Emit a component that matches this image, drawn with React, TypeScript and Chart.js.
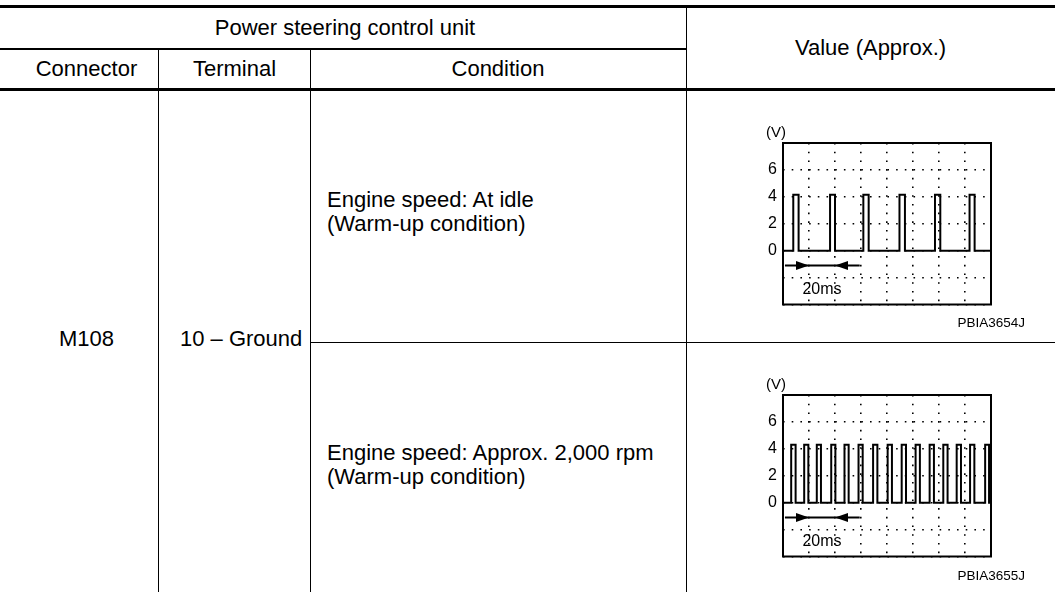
import React, { useEffect, useRef } from 'react';
import { Chart, registerables } from 'chart.js';

Chart.register(...registerables);

// ---- data ----
const timeRangeMs = [0, 160];
const timeGridStepMs = 20;
const voltRange = [-4, 8];
const voltGridStep = 2;
const voltTickValues = [-4, -2, 0, 2, 4, 6, 8];
const voltTickLabels = ['', '', '0', '2', '4', '6', ''];

// Idle: pulse rising / falling edges (ms) and levels (V)
const idleRiseMs = [7.9, 36.2, 61.8, 89.6, 116.9, 143.5];
const idleFallMs = [12.0, 40.0, 65.9, 93.8, 121.0, 147.4];
const idleHighV = 4.15;
const idleLowV = 0.0;

// 2,000 rpm: pulse rising / falling edges (ms) and levels (V)
const revRiseMs = [6.3, 16.3, 26.0, 37.1, 47.3, 58.1, 69.3, 80.5, 91.3, 102.0, 112.8, 123.3, 133.6, 143.9, 155.5];
const revFallMs = [9.7, 19.5, 29.2, 40.3, 50.5, 61.3, 72.6, 83.8, 94.6, 105.3, 116.1, 126.6, 136.9, 147.2, 158.5];
const revHighV = 4.3;
const revLowV = 0.0;

// 20 ms span annotation
const spanFromMs = 20;
const spanToMs = 40;
const spanLabel = '20ms';

const FONT = '"Liberation Sans", Arial, Helvetica, sans-serif';

function buildTrace(rise: number[], fall: number[], high: number, low: number) {
  const pts: { x: number; y: number }[] = [{ x: timeRangeMs[0], y: low }];
  rise.forEach((r, i) => {
    pts.push({ x: r, y: low }, { x: r, y: high }, { x: fall[i], y: high }, { x: fall[i], y: low });
  });
  pts.push({ x: timeRangeMs[1], y: low });
  return pts;
}

const scopeDecor = {
  id: 'scopeDecor',
  afterDraw(chart: any) {
    const { ctx, chartArea: a, scales } = chart;
    const xs = scales.x;
    const ys = scales.y;
    ctx.save();
    // frame
    ctx.strokeStyle = '#000';
    ctx.lineWidth = 2;
    ctx.strokeRect(a.left, a.top, a.right - a.left, a.bottom - a.top);
    // (V)
    ctx.fillStyle = '#000';
    ctx.font = `15px ${FONT}`;
    ctx.textAlign = 'right';
    ctx.textBaseline = 'middle';
    ctx.fillText('(V)', a.left + 3, a.top - 10);
    // span arrows
    const yA = ys.getPixelForValue(-1.1);
    const x1 = xs.getPixelForValue(spanFromMs);
    const x2 = xs.getPixelForValue(spanToMs);
    ctx.lineWidth = 2;
    ctx.beginPath();
    ctx.moveTo(xs.getPixelForValue(1.5), yA);
    ctx.lineTo(xs.getPixelForValue(59), yA);
    ctx.stroke();
    const head = 13;
    const hh = 4.5;
    ctx.beginPath();
    ctx.moveTo(x1, yA);
    ctx.lineTo(x1 - head, yA - hh);
    ctx.lineTo(x1 - head, yA + hh);
    ctx.closePath();
    ctx.fill();
    ctx.beginPath();
    ctx.moveTo(x2, yA);
    ctx.lineTo(x2 + head, yA - hh);
    ctx.lineTo(x2 + head, yA + hh);
    ctx.closePath();
    ctx.fill();
    ctx.font = `16px ${FONT}`;
    ctx.textAlign = 'center';
    ctx.textBaseline = 'middle';
    ctx.fillText(spanLabel, xs.getPixelForValue((spanFromMs + spanToMs) / 2), ys.getPixelForValue(-2.87));
    ctx.restore();
  },
};

function Scope(props: { rise: number[]; fall: number[]; high: number; low: number; left: number; top: number }) {
  const ref = useRef<HTMLCanvasElement>(null);
  useEffect(() => {
    const dotted = [1.6, 7.1];
    const chart = new Chart(ref.current as HTMLCanvasElement, {
      type: 'line',
      data: {
        datasets: [
          {
            data: buildTrace(props.rise, props.fall, props.high, props.low),
            borderColor: '#000',
            borderWidth: 2,
            pointRadius: 0,
            tension: 0,
            fill: false,
          },
        ],
      },
      options: {
        animation: false,
        responsive: false,
        events: [],
        layout: { padding: { left: 10, right: 49, top: 33, bottom: 30.5 } },
        plugins: { legend: { display: false }, tooltip: { enabled: false } },
        scales: {
          x: {
            type: 'linear',
            min: timeRangeMs[0],
            max: timeRangeMs[1],
            ticks: { display: false, stepSize: timeGridStepMs },
            grid: { color: '#000', lineWidth: 1.6, drawTicks: false },
            border: { display: false, dash: dotted },
            afterFit: (s: any) => {
              s.height = 0;
            },
          },
          y: {
            type: 'linear',
            min: voltRange[0],
            max: voltRange[1],
            ticks: {
              stepSize: voltGridStep,
              padding: 6,
              color: '#000',
              font: { family: FONT, size: 16 },
              callback: (v: any) => {
                const i = voltTickValues.indexOf(Number(v));
                return i >= 0 ? voltTickLabels[i] : '';
              },
            },
            grid: { color: '#000', lineWidth: 1.6, drawTicks: false },
            border: { display: false, dash: dotted },
            afterFit: (s: any) => {
              s.width = 33;
            },
          },
        },
      } as any,
      plugins: [scopeDecor],
    });
    return () => chart.destroy();
  }, []);
  return (
    <canvas
      ref={ref}
      width={300}
      height={225}
      style={{ position: 'absolute', left: props.left, top: props.top, width: 300, height: 225 }}
    />
  );
}

const line = (left: number, top: number, width: number, height: number) => (
  <div style={{ position: 'absolute', left, top, width, height, background: '#000' }} />
);

const cell = (text: string, left: number, top: number, width: number, height: number) => (
  <div
    style={{
      position: 'absolute',
      left,
      top,
      width,
      height,
      display: 'flex',
      alignItems: 'center',
      justifyContent: 'center',
      whiteSpace: 'nowrap',
    }}
  >
    {text}
  </div>
);

const text = (t: string, left: number, top: number, extra: any = {}) => (
  <div style={{ position: 'absolute', left, top, whiteSpace: 'nowrap', lineHeight: '24px', ...extra }}>{t}</div>
);

export default function App() {
  return (
    <div
      style={{
        position: 'absolute',
        left: 0,
        top: 0,
        width: 1055,
        height: 592,
        background: '#fff',
        color: '#000',
        fontFamily: FONT,
        fontSize: 22,
        overflow: 'hidden',
      }}
    >
      {line(0, 5, 1055, 3)}
      {line(0, 48, 686, 2)}
      {line(0, 88, 1055, 3)}
      {line(158, 50, 1, 542)}
      {line(310, 50, 1, 542)}
      {line(686, 8, 1, 584)}
      {line(310, 342, 745, 1)}

      {cell('Power steering control unit', 0, 8, 690, 40)}
      {cell('Connector', 14, 50, 145, 38)}
      {cell('Terminal', 159, 50, 151, 38)}
      {cell('Condition', 310, 50, 376, 38)}
      {cell('Value (Approx.)', 686, 8, 369, 80)}

      {text('M108', 59, 327)}
      {text('10 \u2013 Ground', 180, 327)}
      {text('Engine speed: At idle', 327, 187.5)}
      {text('(Warm-up condition)', 327, 211.5)}
      {text('Engine speed: Approx. 2,000 rpm', 327, 440.5)}
      {text('(Warm-up condition)', 327, 464.5)}

      <Scope rise={idleRiseMs} fall={idleFallMs} high={idleHighV} low={idleLowV} left={740} top={110} />
      <Scope rise={revRiseMs} fall={revFallMs} high={revHighV} low={revLowV} left={740} top={362} />

      {text('PBIA3654J', 0, 315, { left: 'auto', right: 30, fontSize: 13.5, lineHeight: '15px' })}
      {text('PBIA3655J', 0, 568, { left: 'auto', right: 30, fontSize: 13.5, lineHeight: '15px' })}
    </div>
  );
}
